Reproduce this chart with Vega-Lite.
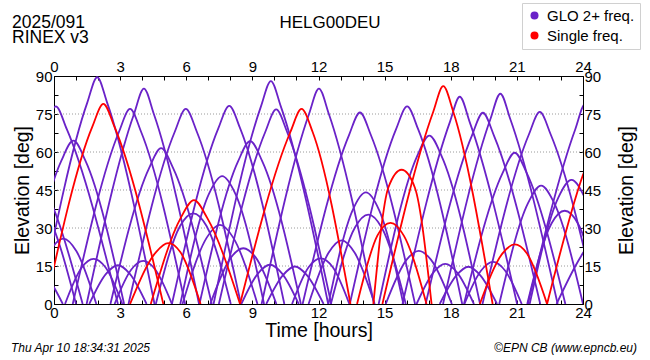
{
"$schema":"https://vega.github.io/schema/vega-lite/v6.json",
"width":529,"height":228,
"autosize":{"type":"none"},
"padding":{"left":54,"top":76,"right":67,"bottom":56},
"background":"white",
"config":{"view":{"stroke":"black","strokeWidth":1},"font":"Liberation Sans","axis":{"labelFont":"Liberation Sans","titleFont":"Liberation Sans","labelFontSize":15,"titleFontSize":19.5,"titleFontWeight":"normal","labelColor":"black","titleColor":"black","tickColor":"black","tickWidth":1,"domain":false,"grid":false,"labelFlush":false,"labelOverlap":false}},
"datasets":{"arcs":[
{"sat":"E1","group":"GLO 2+ freq.","t":-2.9,"e":0},{"sat":"E1","group":"GLO 2+ freq.","t":-1.6,"e":45},{"sat":"E1","group":"GLO 2+ freq.","t":-1.0,"e":52},{"sat":"E1","group":"GLO 2+ freq.","t":-0.4,"e":45},{"sat":"E1","group":"GLO 2+ freq.","t":1.3,"e":0},
{"sat":"E2","group":"GLO 2+ freq.","t":-2.6,"e":0},{"sat":"E2","group":"GLO 2+ freq.","t":-1.5,"e":35},{"sat":"E2","group":"GLO 2+ freq.","t":-0.9,"e":40},{"sat":"E2","group":"GLO 2+ freq.","t":-0.3,"e":35},{"sat":"E2","group":"GLO 2+ freq.","t":1.0,"e":0},
{"sat":"E3","group":"GLO 2+ freq.","t":-2.3,"e":0},{"sat":"E3","group":"GLO 2+ freq.","t":-1.55,"e":12.5},{"sat":"E3","group":"GLO 2+ freq.","t":-1.0,"e":16},{"sat":"E3","group":"GLO 2+ freq.","t":-0.45,"e":12.5},{"sat":"E3","group":"GLO 2+ freq.","t":0.4,"e":0},
{"sat":"P1","group":"GLO 2+ freq.","t":-2.5,"e":0},{"sat":"P1","group":"GLO 2+ freq.","t":-0.42,"e":69},{"sat":"P1","group":"GLO 2+ freq.","t":0.08,"e":78},{"sat":"P1","group":"GLO 2+ freq.","t":0.58,"e":69},{"sat":"P1","group":"GLO 2+ freq.","t":2.9,"e":0},
{"sat":"P2","group":"GLO 2+ freq.","t":-0.64,"e":0},{"sat":"P2","group":"GLO 2+ freq.","t":1.51,"e":79.5},{"sat":"P2","group":"GLO 2+ freq.","t":1.96,"e":89.5},{"sat":"P2","group":"GLO 2+ freq.","t":2.41,"e":79.5},{"sat":"P2","group":"GLO 2+ freq.","t":4.56,"e":0},
{"sat":"P3","group":"GLO 2+ freq.","t":-1.42,"e":0},{"sat":"P3","group":"GLO 2+ freq.","t":0.33,"e":56.5},{"sat":"P3","group":"GLO 2+ freq.","t":0.88,"e":64.5},{"sat":"P3","group":"GLO 2+ freq.","t":1.43,"e":56.5},{"sat":"P3","group":"GLO 2+ freq.","t":3.18,"e":0},
{"sat":"P4","group":"GLO 2+ freq.","t":0.85,"e":0},{"sat":"P4","group":"GLO 2+ freq.","t":2.95,"e":68},{"sat":"P4","group":"GLO 2+ freq.","t":3.45,"e":77},{"sat":"P4","group":"GLO 2+ freq.","t":3.95,"e":68},{"sat":"P4","group":"GLO 2+ freq.","t":5.95,"e":0},
{"sat":"P5","group":"GLO 2+ freq.","t":1.48,"e":0},{"sat":"P5","group":"GLO 2+ freq.","t":3.63,"e":75},{"sat":"P5","group":"GLO 2+ freq.","t":4.08,"e":85},{"sat":"P5","group":"GLO 2+ freq.","t":4.53,"e":75},{"sat":"P5","group":"GLO 2+ freq.","t":6.58,"e":0},
{"sat":"P6","group":"GLO 2+ freq.","t":2.56,"e":0},{"sat":"P6","group":"GLO 2+ freq.","t":4.31,"e":53.5},{"sat":"P6","group":"GLO 2+ freq.","t":4.86,"e":61.5},{"sat":"P6","group":"GLO 2+ freq.","t":5.41,"e":53.5},{"sat":"P6","group":"GLO 2+ freq.","t":7.16,"e":0},
{"sat":"P7","group":"GLO 2+ freq.","t":3.38,"e":0},{"sat":"P7","group":"GLO 2+ freq.","t":5.48,"e":68},{"sat":"P7","group":"GLO 2+ freq.","t":5.98,"e":77},{"sat":"P7","group":"GLO 2+ freq.","t":6.48,"e":68},{"sat":"P7","group":"GLO 2+ freq.","t":8.48,"e":0},
{"sat":"P8","group":"GLO 2+ freq.","t":-1.08,"e":0},{"sat":"P8","group":"GLO 2+ freq.","t":-0.18,"e":20.8},{"sat":"P8","group":"GLO 2+ freq.","t":0.42,"e":25.8},{"sat":"P8","group":"GLO 2+ freq.","t":1.02,"e":20.8},{"sat":"P8","group":"GLO 2+ freq.","t":1.92,"e":0},
{"sat":"P9","group":"GLO 2+ freq.","t":0.5,"e":0},{"sat":"P9","group":"GLO 2+ freq.","t":1.25,"e":14.3},{"sat":"P9","group":"GLO 2+ freq.","t":1.8,"e":17.8},{"sat":"P9","group":"GLO 2+ freq.","t":2.35,"e":14.3},{"sat":"P9","group":"GLO 2+ freq.","t":3.1,"e":0},
{"sat":"P10","group":"GLO 2+ freq.","t":1.6,"e":0},{"sat":"P10","group":"GLO 2+ freq.","t":2.35,"e":11.8},{"sat":"P10","group":"GLO 2+ freq.","t":2.9,"e":15.3},{"sat":"P10","group":"GLO 2+ freq.","t":3.45,"e":11.8},{"sat":"P10","group":"GLO 2+ freq.","t":4.2,"e":0},
{"sat":"P11","group":"GLO 2+ freq.","t":2.75,"e":0},{"sat":"P11","group":"GLO 2+ freq.","t":3.5,"e":13.5},{"sat":"P11","group":"GLO 2+ freq.","t":4.05,"e":17},{"sat":"P11","group":"GLO 2+ freq.","t":4.6,"e":13.5},{"sat":"P11","group":"GLO 2+ freq.","t":5.35,"e":0},
{"sat":"P12","group":"GLO 2+ freq.","t":4.62,"e":0},{"sat":"P12","group":"GLO 2+ freq.","t":5.72,"e":30.8},{"sat":"P12","group":"GLO 2+ freq.","t":6.32,"e":35.8},{"sat":"P12","group":"GLO 2+ freq.","t":6.92,"e":30.8},{"sat":"P12","group":"GLO 2+ freq.","t":8.02,"e":0},
{"sat":"P13","group":"GLO 2+ freq.","t":5.83,"e":0},{"sat":"P13","group":"GLO 2+ freq.","t":6.93,"e":26.2},{"sat":"P13","group":"GLO 2+ freq.","t":7.53,"e":31.2},{"sat":"P13","group":"GLO 2+ freq.","t":8.13,"e":26.2},{"sat":"P13","group":"GLO 2+ freq.","t":9.23,"e":0},
{"sat":"P14","group":"GLO 2+ freq.","t":5.73,"e":0},{"sat":"P14","group":"GLO 2+ freq.","t":7.03,"e":43.5},{"sat":"P14","group":"GLO 2+ freq.","t":7.63,"e":50.5},{"sat":"P14","group":"GLO 2+ freq.","t":8.23,"e":43.5},{"sat":"P14","group":"GLO 2+ freq.","t":9.53,"e":0},
{"sat":"P15","group":"GLO 2+ freq.","t":5.35,"e":0},{"sat":"P15","group":"GLO 2+ freq.","t":7.45,"e":69.2},{"sat":"P15","group":"GLO 2+ freq.","t":7.95,"e":78.2},{"sat":"P15","group":"GLO 2+ freq.","t":8.45,"e":69.2},{"sat":"P15","group":"GLO 2+ freq.","t":10.45,"e":0},
{"sat":"P16","group":"GLO 2+ freq.","t":6.6,"e":0},{"sat":"P16","group":"GLO 2+ freq.","t":8.35,"e":56.3},{"sat":"P16","group":"GLO 2+ freq.","t":8.9,"e":64.3},{"sat":"P16","group":"GLO 2+ freq.","t":9.45,"e":56.3},{"sat":"P16","group":"GLO 2+ freq.","t":11.2,"e":0},
{"sat":"P17","group":"GLO 2+ freq.","t":7.09,"e":0},{"sat":"P17","group":"GLO 2+ freq.","t":8.04,"e":18.5},{"sat":"P17","group":"GLO 2+ freq.","t":8.59,"e":22},{"sat":"P17","group":"GLO 2+ freq.","t":9.14,"e":18.5},{"sat":"P17","group":"GLO 2+ freq.","t":10.09,"e":0},
{"sat":"P18","group":"GLO 2+ freq.","t":7.24,"e":0},{"sat":"P18","group":"GLO 2+ freq.","t":9.39,"e":78},{"sat":"P18","group":"GLO 2+ freq.","t":9.84,"e":88},{"sat":"P18","group":"GLO 2+ freq.","t":10.29,"e":78},{"sat":"P18","group":"GLO 2+ freq.","t":12.44,"e":0},
{"sat":"P19","group":"GLO 2+ freq.","t":7.48,"e":0},{"sat":"P19","group":"GLO 2+ freq.","t":9.58,"e":67.8},{"sat":"P19","group":"GLO 2+ freq.","t":10.08,"e":76.8},{"sat":"P19","group":"GLO 2+ freq.","t":10.58,"e":67.8},{"sat":"P19","group":"GLO 2+ freq.","t":12.58,"e":0},
{"sat":"P20","group":"GLO 2+ freq.","t":8.5,"e":0},{"sat":"P20","group":"GLO 2+ freq.","t":9.25,"e":12},{"sat":"P20","group":"GLO 2+ freq.","t":9.8,"e":15.5},{"sat":"P20","group":"GLO 2+ freq.","t":10.35,"e":12},{"sat":"P20","group":"GLO 2+ freq.","t":11.1,"e":0},
{"sat":"P21","group":"GLO 2+ freq.","t":9.63,"e":0},{"sat":"P21","group":"GLO 2+ freq.","t":10.38,"e":11.3},{"sat":"P21","group":"GLO 2+ freq.","t":10.93,"e":14.8},{"sat":"P21","group":"GLO 2+ freq.","t":11.48,"e":11.3},{"sat":"P21","group":"GLO 2+ freq.","t":12.23,"e":0},
{"sat":"P22","group":"GLO 2+ freq.","t":9.42,"e":0},{"sat":"P22","group":"GLO 2+ freq.","t":11.57,"e":75},{"sat":"P22","group":"GLO 2+ freq.","t":12.02,"e":85},{"sat":"P22","group":"GLO 2+ freq.","t":12.47,"e":75},{"sat":"P22","group":"GLO 2+ freq.","t":14.52,"e":0},
{"sat":"P23","group":"GLO 2+ freq.","t":10.8,"e":0},{"sat":"P23","group":"GLO 2+ freq.","t":11.55,"e":14.5},{"sat":"P23","group":"GLO 2+ freq.","t":12.1,"e":18},{"sat":"P23","group":"GLO 2+ freq.","t":12.65,"e":14.5},{"sat":"P23","group":"GLO 2+ freq.","t":13.4,"e":0},
{"sat":"P24","group":"GLO 2+ freq.","t":11.28,"e":0},{"sat":"P24","group":"GLO 2+ freq.","t":13.38,"e":66.6},{"sat":"P24","group":"GLO 2+ freq.","t":13.88,"e":75.6},{"sat":"P24","group":"GLO 2+ freq.","t":14.38,"e":66.6},{"sat":"P24","group":"GLO 2+ freq.","t":16.38,"e":0},
{"sat":"P25","group":"GLO 2+ freq.","t":13.42,"e":0},{"sat":"P25","group":"GLO 2+ freq.","t":15.52,"e":69},{"sat":"P25","group":"GLO 2+ freq.","t":16.02,"e":78},{"sat":"P25","group":"GLO 2+ freq.","t":16.52,"e":69},{"sat":"P25","group":"GLO 2+ freq.","t":18.52,"e":0},
{"sat":"P26","group":"GLO 2+ freq.","t":12.45,"e":0},{"sat":"P26","group":"GLO 2+ freq.","t":13.55,"e":37.1},{"sat":"P26","group":"GLO 2+ freq.","t":14.15,"e":44.1},{"sat":"P26","group":"GLO 2+ freq.","t":14.75,"e":37.1},{"sat":"P26","group":"GLO 2+ freq.","t":15.85,"e":0},
{"sat":"P27","group":"GLO 2+ freq.","t":12.56,"e":0},{"sat":"P27","group":"GLO 2+ freq.","t":13.66,"e":30.3},{"sat":"P27","group":"GLO 2+ freq.","t":14.26,"e":35.3},{"sat":"P27","group":"GLO 2+ freq.","t":14.86,"e":30.3},{"sat":"P27","group":"GLO 2+ freq.","t":15.96,"e":0},
{"sat":"P28","group":"GLO 2+ freq.","t":11.55,"e":0},{"sat":"P28","group":"GLO 2+ freq.","t":12.45,"e":20.1},{"sat":"P28","group":"GLO 2+ freq.","t":13.05,"e":25.1},{"sat":"P28","group":"GLO 2+ freq.","t":13.65,"e":20.1},{"sat":"P28","group":"GLO 2+ freq.","t":14.55,"e":0},
{"sat":"P29","group":"GLO 2+ freq.","t":14.73,"e":0},{"sat":"P29","group":"GLO 2+ freq.","t":16.48,"e":58.5},{"sat":"P29","group":"GLO 2+ freq.","t":17.03,"e":66.5},{"sat":"P29","group":"GLO 2+ freq.","t":17.58,"e":58.5},{"sat":"P29","group":"GLO 2+ freq.","t":19.33,"e":0},
{"sat":"P30","group":"GLO 2+ freq.","t":15.81,"e":0},{"sat":"P30","group":"GLO 2+ freq.","t":17.96,"e":71.8},{"sat":"P30","group":"GLO 2+ freq.","t":18.41,"e":81.8},{"sat":"P30","group":"GLO 2+ freq.","t":18.86,"e":71.8},{"sat":"P30","group":"GLO 2+ freq.","t":21.01,"e":0},
{"sat":"P31","group":"GLO 2+ freq.","t":15.05,"e":0},{"sat":"P31","group":"GLO 2+ freq.","t":16.0,"e":17.5},{"sat":"P31","group":"GLO 2+ freq.","t":16.55,"e":21},{"sat":"P31","group":"GLO 2+ freq.","t":17.1,"e":17.5},{"sat":"P31","group":"GLO 2+ freq.","t":18.05,"e":0},
{"sat":"P32","group":"GLO 2+ freq.","t":16.45,"e":0},{"sat":"P32","group":"GLO 2+ freq.","t":17.2,"e":12.3},{"sat":"P32","group":"GLO 2+ freq.","t":17.75,"e":15.8},{"sat":"P32","group":"GLO 2+ freq.","t":18.3,"e":12.3},{"sat":"P32","group":"GLO 2+ freq.","t":19.05,"e":0},
{"sat":"P33","group":"GLO 2+ freq.","t":17.5,"e":0},{"sat":"P33","group":"GLO 2+ freq.","t":18.25,"e":11.2},{"sat":"P33","group":"GLO 2+ freq.","t":18.8,"e":14.7},{"sat":"P33","group":"GLO 2+ freq.","t":19.35,"e":11.2},{"sat":"P33","group":"GLO 2+ freq.","t":20.1,"e":0},
{"sat":"P34","group":"GLO 2+ freq.","t":16.86,"e":0},{"sat":"P34","group":"GLO 2+ freq.","t":18.96,"e":66.5},{"sat":"P34","group":"GLO 2+ freq.","t":19.46,"e":75.5},{"sat":"P34","group":"GLO 2+ freq.","t":19.96,"e":66.5},{"sat":"P34","group":"GLO 2+ freq.","t":22.06,"e":0},
{"sat":"P35","group":"GLO 2+ freq.","t":17.65,"e":0},{"sat":"P35","group":"GLO 2+ freq.","t":19.8,"e":73},{"sat":"P35","group":"GLO 2+ freq.","t":20.25,"e":83},{"sat":"P35","group":"GLO 2+ freq.","t":20.7,"e":73},{"sat":"P35","group":"GLO 2+ freq.","t":22.85,"e":0},
{"sat":"P36","group":"GLO 2+ freq.","t":18.62,"e":0},{"sat":"P36","group":"GLO 2+ freq.","t":19.37,"e":13.1},{"sat":"P36","group":"GLO 2+ freq.","t":19.92,"e":16.6},{"sat":"P36","group":"GLO 2+ freq.","t":20.47,"e":13.1},{"sat":"P36","group":"GLO 2+ freq.","t":21.22,"e":0},
{"sat":"P37","group":"GLO 2+ freq.","t":18.6,"e":0},{"sat":"P37","group":"GLO 2+ freq.","t":20.35,"e":51.7},{"sat":"P37","group":"GLO 2+ freq.","t":20.9,"e":59.7},{"sat":"P37","group":"GLO 2+ freq.","t":21.45,"e":51.7},{"sat":"P37","group":"GLO 2+ freq.","t":23.2,"e":0},
{"sat":"P38","group":"GLO 2+ freq.","t":19.44,"e":0},{"sat":"P38","group":"GLO 2+ freq.","t":21.54,"e":66.8},{"sat":"P38","group":"GLO 2+ freq.","t":22.04,"e":75.8},{"sat":"P38","group":"GLO 2+ freq.","t":22.54,"e":66.8},{"sat":"P38","group":"GLO 2+ freq.","t":24.64,"e":0},
{"sat":"P39","group":"GLO 2+ freq.","t":20.2,"e":0},{"sat":"P39","group":"GLO 2+ freq.","t":21.5,"e":39.7},{"sat":"P39","group":"GLO 2+ freq.","t":22.1,"e":46.7},{"sat":"P39","group":"GLO 2+ freq.","t":22.7,"e":39.7},{"sat":"P39","group":"GLO 2+ freq.","t":24.0,"e":0},
{"sat":"P40","group":"GLO 2+ freq.","t":21.58,"e":0},{"sat":"P40","group":"GLO 2+ freq.","t":22.88,"e":42},{"sat":"P40","group":"GLO 2+ freq.","t":23.48,"e":49},{"sat":"P40","group":"GLO 2+ freq.","t":24.08,"e":42},{"sat":"P40","group":"GLO 2+ freq.","t":25.38,"e":0},
{"sat":"P41","group":"GLO 2+ freq.","t":21.47,"e":0},{"sat":"P41","group":"GLO 2+ freq.","t":22.57,"e":31.8},{"sat":"P41","group":"GLO 2+ freq.","t":23.17,"e":36.8},{"sat":"P41","group":"GLO 2+ freq.","t":23.77,"e":31.8},{"sat":"P41","group":"GLO 2+ freq.","t":24.87,"e":0},
{"sat":"P42","group":"GLO 2+ freq.","t":21.5,"e":0},{"sat":"P42","group":"GLO 2+ freq.","t":23.65,"e":69},{"sat":"P42","group":"GLO 2+ freq.","t":24.1,"e":79},{"sat":"P42","group":"GLO 2+ freq.","t":24.55,"e":69},{"sat":"P42","group":"GLO 2+ freq.","t":26.7,"e":0},
{"sat":"P43","group":"GLO 2+ freq.","t":22.8,"e":0},{"sat":"P43","group":"GLO 2+ freq.","t":24.4,"e":25},{"sat":"P43","group":"GLO 2+ freq.","t":25,"e":30},{"sat":"P43","group":"GLO 2+ freq.","t":25.6,"e":25},{"sat":"P43","group":"GLO 2+ freq.","t":27,"e":0},
{"sat":"R1","group":"Single freq.","t":-0.38,"e":0},{"sat":"R1","group":"Single freq.","t":1.74,"e":70},{"sat":"R1","group":"Single freq.","t":2.24,"e":79},{"sat":"R1","group":"Single freq.","t":2.74,"e":70},{"sat":"R1","group":"Single freq.","t":4.96,"e":0},
{"sat":"R2","group":"Single freq.","t":3.45,"e":0},{"sat":"R2","group":"Single freq.","t":4.63,"e":20.5},{"sat":"R2","group":"Single freq.","t":5.18,"e":24},{"sat":"R2","group":"Single freq.","t":5.73,"e":20.5},{"sat":"R2","group":"Single freq.","t":6.65,"e":0},
{"sat":"R3","group":"Single freq.","t":4.39,"e":0},{"sat":"R3","group":"Single freq.","t":5.75,"e":34},{"sat":"R3","group":"Single freq.","t":6.35,"e":41},{"sat":"R3","group":"Single freq.","t":6.95,"e":34},{"sat":"R3","group":"Single freq.","t":8.44,"e":0},
{"sat":"R4","group":"Single freq.","t":8.44,"e":0},{"sat":"R4","group":"Single freq.","t":10.73,"e":68},{"sat":"R4","group":"Single freq.","t":11.23,"e":77},{"sat":"R4","group":"Single freq.","t":11.73,"e":68},{"sat":"R4","group":"Single freq.","t":13.45,"e":0},
{"sat":"R5","group":"Single freq.","t":13.75,"e":0},{"sat":"R5","group":"Single freq.","t":14.67,"e":27},{"sat":"R5","group":"Single freq.","t":15.27,"e":32},{"sat":"R5","group":"Single freq.","t":15.87,"e":27},{"sat":"R5","group":"Single freq.","t":16.9,"e":0},
{"sat":"R6","group":"Single freq.","t":14.49,"e":0},{"sat":"R6","group":"Single freq.","t":15.17,"e":46},{"sat":"R6","group":"Single freq.","t":15.77,"e":53},{"sat":"R6","group":"Single freq.","t":16.37,"e":46},{"sat":"R6","group":"Single freq.","t":17.13,"e":0},
{"sat":"R7","group":"Single freq.","t":14.9,"e":0},{"sat":"R7","group":"Single freq.","t":17.21,"e":76},{"sat":"R7","group":"Single freq.","t":17.66,"e":86},{"sat":"R7","group":"Single freq.","t":18.11,"e":76},{"sat":"R7","group":"Single freq.","t":19.9,"e":0},
{"sat":"R8","group":"Single freq.","t":19.32,"e":0},{"sat":"R8","group":"Single freq.","t":20.35,"e":20},{"sat":"R8","group":"Single freq.","t":20.9,"e":23.5},{"sat":"R8","group":"Single freq.","t":21.45,"e":20},{"sat":"R8","group":"Single freq.","t":22.37,"e":0},
{"sat":"R9","group":"Single freq.","t":22.37,"e":0},{"sat":"R9","group":"Single freq.","t":24,"e":51},{"sat":"R9","group":"Single freq.","t":24.8,"e":68}
]},
"layer":[
{"data":{"values":[{"g":15},{"g":30},{"g":45},{"g":60},{"g":75}]},
 "mark":{"type":"rule","strokeDash":[1,2],"color":"#9a9a9a","strokeWidth":1},
 "encoding":{"y":{"field":"g","type":"quantitative","scale":{"domain":[0,90],"nice":false,"zero":false},"axis":null}}},
{"data":{"name":"arcs"},
 "mark":{"type":"line","interpolate":"monotone","clip":true,"strokeWidth":1.8},
 "encoding":{
  "x":{"field":"t","type":"quantitative","scale":{"domain":[0,24],"nice":false,"zero":false},
       "axis":{"orient":"bottom","values":[0,1,2,3,4,5,6,7,8,9,10,11,12,13,14,15,16,17,18,19,20,21,22,23,24],"labelExpr":"datum.value % 3 === 0 ? datum.label : ''","tickSize":-4,"labelPadding":5,"title":"Time [hours]","titlePadding":1}},
  "y":{"field":"e","type":"quantitative","scale":{"domain":[0,90],"nice":false,"zero":false},
       "axis":{"orient":"left","values":[0,7.5,15,22.5,30,37.5,45,52.5,60,67.5,75,82.5,90],"labelExpr":"datum.value % 15 === 0 ? datum.label : ''","tickSize":-4,"labelPadding":6,"title":"Elevation [deg]","titlePadding":3}},
  "color":{"field":"group","type":"nominal","scale":{"domain":["GLO 2+ freq.","Single freq."],"range":["#6a22c8","#ff0000"]},
       "legend":{"orient":"none","legendX":468,"legendY":-73,"title":null,"symbolType":"circle","symbolSize":64,"labelFontSize":15,"labelFont":"Liberation Sans","labelColor":"black","labelOffset":5,"strokeColor":"#d0d0d0","fillColor":"white","padding":5,"rowPadding":4,"symbolStrokeWidth":0,
        "encode":{"symbols":{"update":{"fill":{"scale":"color","field":"value"},"fillOpacity":{"value":1}}}}}},
  "detail":{"field":"sat"}}},
{"data":{"name":"arcs"},
 "mark":{"type":"point","opacity":0},
 "encoding":{
  "x":{"field":"t","type":"quantitative","scale":{"domain":[0,24],"nice":false,"zero":false},
       "axis":{"orient":"top","values":[0,1,2,3,4,5,6,7,8,9,10,11,12,13,14,15,16,17,18,19,20,21,22,23,24],"labelExpr":"datum.value % 3 === 0 ? datum.label : ''","tickSize":-4,"labelPadding":6,"title":null}},
  "y":{"field":"e","type":"quantitative","scale":{"domain":[0,90],"nice":false,"zero":false},
       "axis":{"orient":"right","values":[0,7.5,15,22.5,30,37.5,45,52.5,60,67.5,75,82.5,90],"labelExpr":"datum.value % 15 === 0 ? datum.label : ''","tickSize":-4,"labelPadding":5,"title":"Elevation [deg]","titleAngle":270,"titleBaseline":"top","titlePadding":17}}}},
{"data":{"values":[{"s":"2025/091"}]},"mark":{"type":"text","align":"left","baseline":"alphabetic","fontSize":17.5,"x":-42,"y":-48},"encoding":{"text":{"field":"s"}}},
{"data":{"values":[{"s":"RINEX v3"}]},"mark":{"type":"text","align":"left","baseline":"alphabetic","fontSize":17.5,"x":-42,"y":-33.5},"encoding":{"text":{"field":"s"}}},
{"data":{"values":[{"s":"HELG00DEU"}]},"mark":{"type":"text","align":"center","baseline":"alphabetic","fontSize":17,"x":276,"y":-48},"encoding":{"text":{"field":"s"}}},
{"data":{"values":[{"s":"Thu Apr 10 18:34:31 2025"}]},"mark":{"type":"text","align":"left","baseline":"middle","fontSize":12,"fontStyle":"italic","x":-43,"y":272},"encoding":{"text":{"field":"s"}}},
{"data":{"values":[{"s":"©EPN CB (www.epncb.eu)"}]},"mark":{"type":"text","align":"right","baseline":"middle","fontSize":12,"fontStyle":"italic","x":583,"y":272},"encoding":{"text":{"field":"s"}}}
],
"resolve":{"axis":{"x":"independent","y":"independent"}}
}
